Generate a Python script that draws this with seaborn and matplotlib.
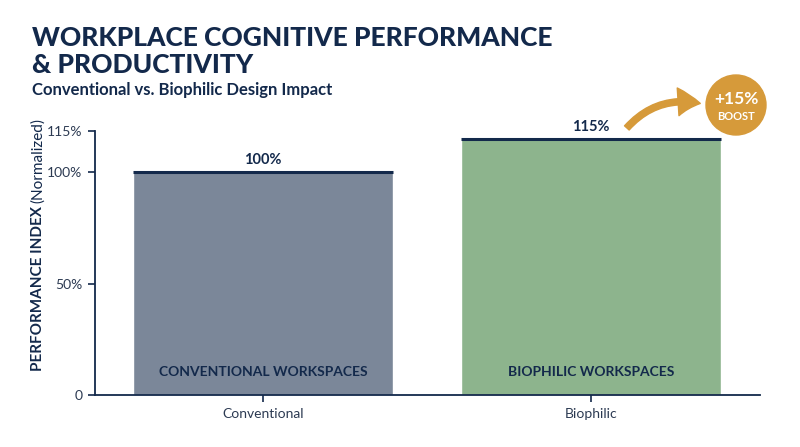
import matplotlib
matplotlib.use("Agg")
import matplotlib.pyplot as plt
import seaborn as sns
import pandas as pd
from matplotlib.patches import Circle, FancyArrowPatch

categories = ["Conventional", "Biophilic"]
values = [100, 115]
value_labels = ["100%", "115%"]
inner_labels = ["CONVENTIONAL WORKSPACES", "BIOPHILIC WORKSPACES"]
bar_colors = ["#7b8799", "#8db48d"]
ytick_values = [0, 50, 100, 118.4]
ytick_labels = ["0", "50%", "100%", "115%"]
boost_text = "+15%"
boost_sub = "BOOST"

NAVY = "#13294b"
ORANGE = "#d69a3a"
TICKC = "#2c3a52"

sns.set_theme(style="white")
plt.rcParams["font.family"] = ["Lato", "DejaVu Sans"]

df = pd.DataFrame({"cat": categories, "val": values})

fig = plt.figure(figsize=(8, 4.47), dpi=100)
ax = fig.add_axes([0.11875, 0.1163, 0.83125, 0.5906])

sns.barplot(data=df, x="cat", y="val", hue="cat", palette=bar_colors,
            legend=False, width=0.79, ax=ax, saturation=1)

ax.set_xlim(-0.512, 1.515)
ax.set_ylim(0, ytick_values[-1])
ax.set_yticks(ytick_values)
ax.set_yticklabels(ytick_labels)
ax.set_xlabel("")
ax.set_ylabel("")

for s in ["top", "right"]:
    ax.spines[s].set_visible(False)
for s in ["left", "bottom"]:
    ax.spines[s].set_color(NAVY)
    ax.spines[s].set_linewidth(1.3)
ax.tick_params(axis="both", direction="out", length=5, width=1.2, color=NAVY,
               labelcolor=TICKC, labelsize=10, pad=4, left=True, bottom=True)

# navy top edge and labels
for p, vl, il in zip(ax.patches, value_labels, inner_labels):
    x0 = p.get_x(); w = p.get_width(); h = p.get_height()
    ax.plot([x0, x0 + w], [h, h], color=NAVY, lw=2.2, solid_capstyle="butt", zorder=5)
    ax.annotate(vl, (x0 + w / 2, h), xytext=(0, 3.5), textcoords="offset points",
                ha="center", va="bottom", fontsize=10.5, fontweight="bold", color=NAVY)
    ax.annotate(il, (x0 + w / 2, 0), xytext=(0, 12), textcoords="offset points",
                ha="center", va="bottom", fontsize=10, fontweight="bold", color=NAVY)

# Titles
fig.text(32 / 800, 1 - 26 / 447, "WORKPLACE COGNITIVE PERFORMANCE\n& PRODUCTIVITY",
         ha="left", va="top", fontsize=19, fontweight="black", color=NAVY, linespacing=1.17)
fig.text(32 / 800, 1 - 82 / 447, "Conventional vs. Biophilic Design Impact",
         ha="left", va="top", fontsize=12, fontweight="bold", color=NAVY)

# Y label: bold + regular
fig.canvas.draw()
r = fig.canvas.get_renderer()
t1 = fig.text(38 / 800, 1 - 371 / 447, "PERFORMANCE INDEX", rotation=90,
              ha="center", va="bottom", fontsize=11, fontweight="bold", color=NAVY)
bb = t1.get_window_extent(renderer=r)
t2 = fig.text(38 / 800, (bb.y1 + 3) / fig.bbox.height, "(Normalized)", rotation=90,
              ha="center", va="bottom", fontsize=11, color=NAVY)

# Boost badge
cx, cy, rad = 736 / 800, 1 - 105 / 447, 30
circ = Circle((736, 447 - 105), rad, transform=None, color=ORANGE, zorder=10)
fig.patches.append(circ)
circ.set_figure(fig)
fig.text(cx, 1 - 99 / 447, boost_text, ha="center", va="center", fontsize=12.5,
         fontweight="bold", color="white", zorder=11)
fig.text(cx, 1 - 117 / 447, boost_sub, ha="center", va="center", fontsize=8,
         fontweight="bold", color="white", zorder=11)
arrow = FancyArrowPatch((625, 447 - 130), (703, 447 - 104), transform=None,
                        connectionstyle="arc3,rad=-0.3",
                        arrowstyle="simple,head_width=20,head_length=16,tail_width=4.5",
                        color=ORANGE, zorder=10)
arrow.set_figure(fig)
fig.patches.append(arrow)

fig.savefig("out.png", dpi=100)
